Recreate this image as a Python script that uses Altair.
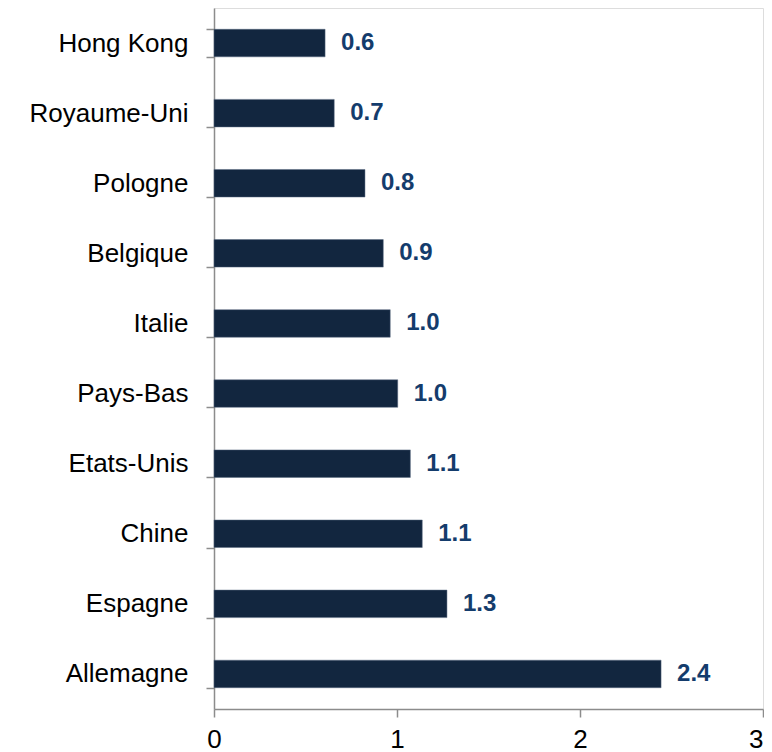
import altair as alt
import pandas as pd

countries = ["Hong Kong", "Royaume-Uni", "Pologne", "Belgique", "Italie",
             "Pays-Bas", "Etats-Unis", "Chine", "Espagne", "Allemagne"]
values = [0.607, 0.657, 0.825, 0.925, 0.963, 1.004, 1.073, 1.138, 1.273, 2.443]
labels = ["0.6", "0.7", "0.8", "0.9", "1.0", "1.0", "1.1", "1.1", "1.3", "2.4"]

df = pd.DataFrame({"pays": countries, "val": values, "lab": labels})

y_enc = alt.Y("pays:N", sort=None, title=None,
              scale=alt.Scale(paddingInner=0.607, paddingOuter=0.3035),
              axis=alt.Axis(tickBand="extent", labelFontSize=26, labelColor="#000000",
                            labelFont="Liberation Sans", labelPadding=18, tickSize=8,
                            domainColor="#8c8c8c", tickColor="#8c8c8c",
                            domainWidth=1.5, tickWidth=1.5, grid=False))
x_enc = alt.X("val:Q", title=None,
              scale=alt.Scale(domain=[0, 3], nice=False),
              axis=alt.Axis(values=[0, 1, 2, 3], format="d", labelFontSize=26,
                            labelColor="#000000", labelFont="Liberation Sans",
                            labelPadding=9, tickSize=8, domainColor="#8c8c8c",
                            tickColor="#8c8c8c", domainWidth=1.5, tickWidth=1.5,
                            grid=False, labelFlush=False,
                            labelAlign={"condition": {"test": "datum.value == 3", "value": "right"},
                                        "value": "center"}))

bars = alt.Chart(df).mark_bar(color="#12263f", stroke="#5a6b80", strokeWidth=0.5).encode(
    y=y_enc, x=x_enc)
text = alt.Chart(df).mark_text(align="left", baseline="middle", dx=16, fontSize=24,
                               fontWeight="bold", font="Liberation Sans",
                               color="#143c6c").encode(
    y=alt.Y("pays:N", sort=None), x="val:Q", text="lab:N")

chart = (bars + text).properties(
    width=549, height=701,
    autosize=alt.AutoSizeParams(type="none"),
    padding={"left": 206, "top": 0, "right": 1, "bottom": 43},
).configure_view(stroke=None).configure(background="white")

chart.save("out.html", embed_options={"renderer": "svg", "actions": False})
